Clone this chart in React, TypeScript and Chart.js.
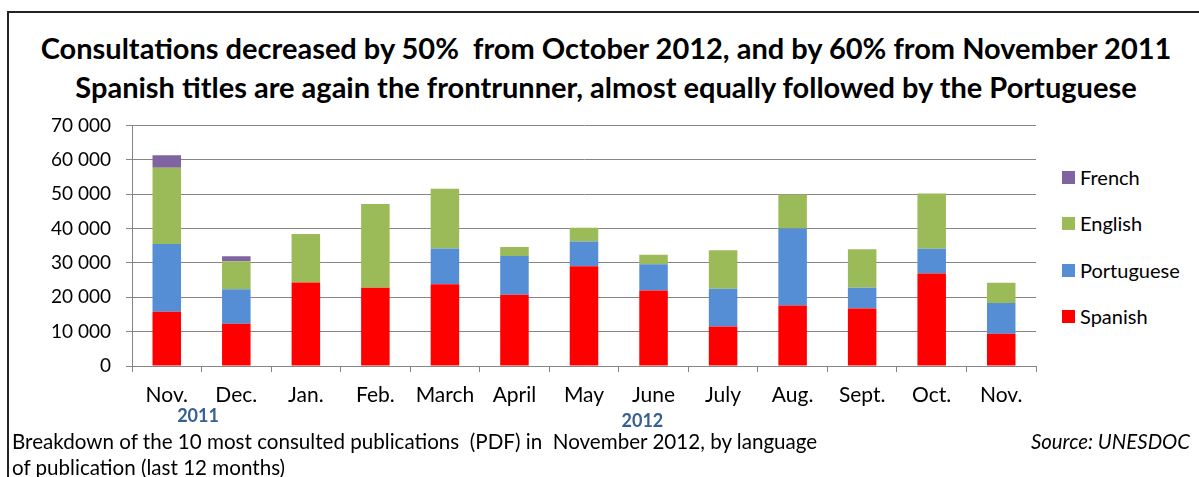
import React, { useEffect, useRef } from "react";
import { Chart, registerables } from "chart.js";

Chart.register(...registerables);

const CATEGORIES = ["Nov.", "Dec.", "Jan.", "Feb.", "March", "April", "May", "June", "July", "Aug.", "Sept.", "Oct.", "Nov."];
const SPANISH = [15800, 12300, 24300, 22800, 23800, 20700, 29000, 22000, 11500, 17600, 16700, 26900, 9400];
const PORTUGUESE = [19700, 10000, 0, 0, 10400, 11300, 7200, 7600, 11000, 22400, 6100, 7200, 8900];
const ENGLISH = [22200, 8200, 14100, 24300, 17400, 2600, 4000, 2800, 11200, 9900, 11200, 16100, 5900];
const FRENCH = [3600, 1400, 0, 0, 0, 0, 0, 0, 0, 0, 0, 0, 0];
const SERIES_NAMES = ["Spanish", "Portuguese", "English", "French"];
const SERIES_COLORS = ["#FF0000", "#558ED5", "#9BBB59", "#8064A2"];
const Y_MAX = 70000;
const Y_STEP = 10000;
const YEAR_LABELS = [
  { at: 0.45, text: "2011", dy: 50 },
  { at: 6.84, text: "2012", dy: 55 },
];
const TITLE_LINES = [
  "Consultations decreased by 50%  from October 2012, and by 60% from November 2011",
  "Spanish titles are again the frontrunner, almost equally followed by the Portuguese",
];
const NOTE_LINES = [
  "Breakdown of the 10 most consulted publications  (PDF) in  November 2012, by language",
  "of publication (last 12 months)",
];
const SOURCE = "Source: UNESDOC";

const FONT = "Lato, 'Open Sans', sans-serif";

const fmt = (v: number) => String(v).replace(/\B(?=(\d{3})+(?!\d))/g, " ");

const yearPlugin = {
  id: "yearLabels",
  afterDraw(chart: any) {
    const ctx = chart.ctx;
    const xs = chart.scales.x;
    ctx.save();
    ctx.font = `bold 18px ${FONT}`;
    ctx.fillStyle = "#376092";
    ctx.textAlign = "center";
    ctx.textBaseline = "middle";
    YEAR_LABELS.forEach((y) => {
      ctx.fillText(y.text, xs.getPixelForValue(y.at), chart.chartArea.bottom + y.dy);
    });
    ctx.restore();
  },
};

export default function App() {
  const ref = useRef<HTMLCanvasElement>(null);

  useEffect(() => {
    document.body.style.margin = "0";
    const data = [SPANISH, PORTUGUESE, ENGLISH, FRENCH];
    const chart = new Chart(ref.current!, {
      type: "bar",
      data: {
        labels: CATEGORIES,
        datasets: SERIES_NAMES.map((name, i) => ({
          label: name,
          data: data[i],
          backgroundColor: SERIES_COLORS[i],
          borderWidth: 0,
          barPercentage: 0.41,
          categoryPercentage: 1,
        })),
      },
      options: {
        responsive: false,
        devicePixelRatio: 1,
        animation: false,
        layout: { padding: { top: 4, right: 24, left: 0, bottom: 0 } },
        plugins: {
          legend: { display: false },
          title: { display: false },
          tooltip: { enabled: false },
        },
        scales: {
          x: {
            stacked: true,
            offset: true,
            grid: {
              display: true,
              drawOnChartArea: false,
              drawTicks: true,
              tickLength: 6,
              offset: true,
              color: "#868686",
            },
            border: { display: true, color: "#868686", width: 1 },
            ticks: {
              color: "#000",
              font: { family: FONT, size: 21 },
              padding: 11,
              maxRotation: 0,
              autoSkip: false,
            },
            afterFit: (s: any) => {
              s.height = 74;
            },
          },
          y: {
            stacked: true,
            min: 0,
            max: Y_MAX,
            grid: {
              color: "#868686",
              lineWidth: 1,
              drawTicks: true,
              tickLength: 6,
            },
            border: { display: true, color: "#868686", width: 1 },
            ticks: {
              stepSize: Y_STEP,
              color: "#000",
              font: { family: FONT, size: 19 },
              padding: 15,
              callback: (v: any) => fmt(Number(v)),
            },
            afterFit: (s: any) => {
              s.width = 132;
            },
          },
        },
      },
      plugins: [yearPlugin],
    });
    return () => chart.destroy();
  }, []);

  const legendOrder = [3, 2, 1, 0];
  const legendY = [177, 223, 270, 316];

  return (
    <div style={{ position: "fixed", left: 0, top: 0, width: 1199, height: 477, background: "#fff", overflow: "hidden", fontFamily: FONT }}>
      <div style={{ position: "absolute", left: 7, top: 11, width: 1300, height: 500, borderTop: "2px solid #222", borderLeft: "2px solid #222" }} />
      <div style={{ position: "absolute", left: 7, top: 28, width: 1198, textAlign: "center", fontWeight: 700, fontSize: 29, lineHeight: "39px", color: "#000", whiteSpace: "pre" }}>
        {TITLE_LINES.map((t, i) => (
          <div key={i}>{t}</div>
        ))}
      </div>
      <canvas ref={ref} width={1060} height={341} style={{ position: "absolute", left: 0, top: 99, width: 1060, height: 341 }} />
      {legendOrder.map((si, k) => (
        <div key={si} style={{ position: "absolute", left: 1062, top: legendY[k] - 12, height: 24, display: "flex", alignItems: "center", fontSize: 20, color: "#000", whiteSpace: "nowrap" }}>
          <span style={{ display: "inline-block", width: 13, height: 13, background: SERIES_COLORS[si], marginRight: 5 }} />
          {SERIES_NAMES[si]}
        </div>
      ))}
      <div style={{ position: "absolute", left: 12, top: 428, fontSize: 20.6, lineHeight: "26px", color: "#000", whiteSpace: "pre" }}>
        {NOTE_LINES.map((t, i) => (
          <div key={i}>{t}</div>
        ))}
      </div>
      <div style={{ position: "absolute", right: 9, top: 428, fontSize: 20.4, lineHeight: "26px", fontStyle: "italic", color: "#000", whiteSpace: "pre" }}>
        {SOURCE}
      </div>
    </div>
  );
}
